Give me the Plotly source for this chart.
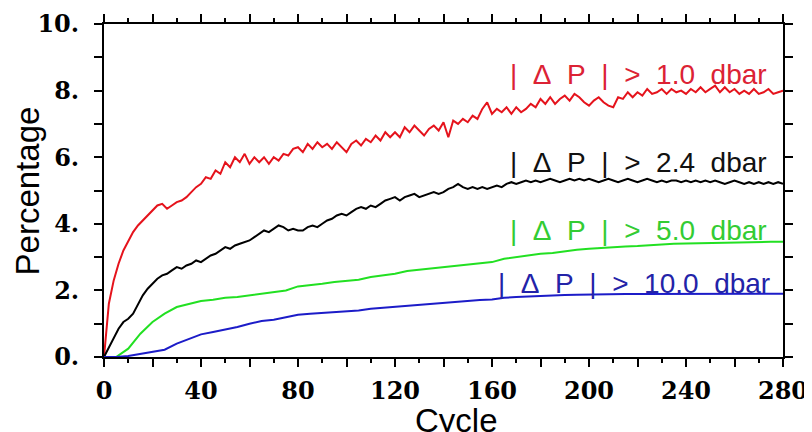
import plotly.graph_objects as go

# ---- data ----
cycle_fine = list(range(0, 281, 2))
cycle_coarse = list(range(0, 281, 5))

pct_gt_1_0 = [
    0, 1.6, 2.3, 2.8, 3.2, 3.5, 3.75, 3.95, 4.1, 4.25, 4.4, 4.55, 4.6, 4.45, 4.55, 4.65, 4.7, 4.8, 4.95, 5.1,
    5.2, 5.4, 5.35, 5.6, 5.5, 5.85, 5.7, 6.0, 5.85, 6.1, 5.8, 6.0, 5.85, 6.0, 5.8, 6.0, 5.9, 6.1, 6.05, 6.25,
    6.3, 6.15, 6.4, 6.25, 6.45, 6.3, 6.4, 6.25, 6.45, 6.3, 6.15, 6.4, 6.5, 6.35, 6.55, 6.45, 6.65, 6.5, 6.75, 6.6,
    6.75, 6.6, 6.9, 6.75, 6.95, 6.8, 6.65, 6.85, 6.95, 6.8, 7.05, 6.6, 7.1, 7.0, 7.15, 7.05, 7.25, 7.15, 7.45, 7.65,
    7.3, 7.45, 7.35, 7.5, 7.3, 7.5, 7.35, 7.45, 7.6, 7.5, 7.75, 7.6, 7.8, 7.6, 7.75, 7.85, 7.7, 7.9, 7.8, 7.65,
    7.55, 7.7, 7.8, 7.65, 7.55, 7.5, 7.8, 7.75, 7.95, 7.8, 7.95, 7.85, 8.05, 7.9, 7.95, 8.05, 7.9, 8.05, 7.95, 8.0,
    7.9, 8.05, 7.95, 8.1, 7.95, 8.05, 8.15, 7.95, 8.1, 7.95, 8.05, 7.9, 8.0, 7.9, 8.05, 7.9, 7.95, 8.05, 7.9, 7.95,
    8.0,
]

pct_gt_2_4 = [
    0, 0.3, 0.6, 0.85, 1.05, 1.15, 1.3, 1.6, 1.85, 2.05, 2.2, 2.35, 2.45, 2.5, 2.6, 2.7, 2.65, 2.75, 2.8, 2.9,
    2.85, 2.95, 3.05, 3.1, 3.2, 3.3, 3.25, 3.35, 3.4, 3.45, 3.5, 3.6, 3.7, 3.8, 3.75, 3.85, 3.95, 3.9, 3.8, 3.85,
    3.8, 3.8, 3.9, 3.95, 3.9, 4.0, 4.1, 4.15, 4.25, 4.3, 4.25, 4.35, 4.45, 4.5, 4.45, 4.55, 4.5, 4.6, 4.7, 4.75,
    4.8, 4.7, 4.8, 4.85, 4.9, 4.8, 4.85, 4.9, 4.95, 4.9, 4.95, 5.05, 5.1, 5.2, 5.1, 5.05, 5.1, 5.05, 5.1, 5.05,
    5.1, 5.15, 5.1, 5.2, 5.25, 5.2, 5.25, 5.3, 5.25, 5.3, 5.25, 5.3, 5.35, 5.3, 5.25, 5.3, 5.35, 5.3, 5.35, 5.3,
    5.35, 5.3, 5.25, 5.3, 5.35, 5.3, 5.25, 5.3, 5.35, 5.3, 5.25, 5.3, 5.35, 5.3, 5.25, 5.3, 5.25, 5.3, 5.3, 5.25,
    5.3, 5.25, 5.3, 5.25, 5.3, 5.25, 5.3, 5.25, 5.2, 5.25, 5.3, 5.25, 5.2, 5.25, 5.2, 5.25, 5.2, 5.25, 5.2, 5.25,
    5.2,
]

pct_gt_5_0 = [
    0, 0.0, 0.25, 0.7, 1.05, 1.3, 1.5, 1.6, 1.68, 1.72, 1.78, 1.8, 1.85, 1.9, 1.95, 2.0, 2.12, 2.15, 2.2, 2.25,
    2.28, 2.32, 2.4, 2.45, 2.5, 2.58, 2.62, 2.66, 2.7, 2.72, 2.76, 2.8, 2.85, 2.95, 3.0, 3.05, 3.1, 3.12, 3.18, 3.22,
    3.25, 3.28, 3.3, 3.32, 3.33, 3.36, 3.38, 3.4, 3.41, 3.42, 3.43, 3.44, 3.44, 3.45, 3.45, 3.46, 3.46,
]

pct_gt_10_0 = [
    0, 0, 0.03, 0.1, 0.15, 0.22, 0.4, 0.55, 0.68, 0.75, 0.82, 0.9, 1.0, 1.08, 1.12, 1.2, 1.27, 1.3, 1.32, 1.34,
    1.36, 1.4, 1.45, 1.48, 1.52, 1.54, 1.56, 1.6, 1.62, 1.65, 1.68, 1.71, 1.73, 1.78, 1.8, 1.82, 1.84, 1.85, 1.86, 1.87,
    1.88, 1.88, 1.88, 1.89, 1.89, 1.89, 1.9, 1.9, 1.9, 1.9, 1.9, 1.9, 1.9, 1.9, 1.9, 1.9, 1.9,
]

x_tickvals = list(range(0, 281, 20))
x_ticktext = [str(v) if v % 40 == 0 else "" for v in x_tickvals]
y_tickvals = [0, 2, 4, 6, 8, 10]
y_ticktext = ["0.", "2.", "4.", "6.", "8.", "10."]

labels = ["|  Δ  P  |  >  1.0  dbar", "|  Δ  P  |  >  2.4  dbar",
          "|  Δ  P  |  >  5.0  dbar", "|  Δ  P  |  >  10.0  dbar"]
label_x = [274.4, 274.4, 274.4, 275.6]
label_y = [8.47, 5.83, 3.81, 2.22]

line_colors = ["#e5131c", "#000000", "#22e022", "#1c1cc8"]
text_colors = ["#dc2234", "#111111", "#33cc33", "#2323a8"]

fig = go.Figure()
series = [(cycle_fine, pct_gt_1_0), (cycle_fine, pct_gt_2_4),
          (cycle_coarse, pct_gt_5_0), (cycle_coarse, pct_gt_10_0)]
for (xs, ys), c in zip(series, line_colors):
    fig.add_trace(go.Scatter(x=xs, y=ys, mode="lines", line=dict(color=c, width=2), showlegend=False))

for t, x, y, c in zip(labels, label_x, label_y, text_colors):
    fig.add_annotation(x=x, y=y, xref="x", yref="y", text=t.replace("  ", "\u00a0\u00a0"),
                       showarrow=False, xanchor="right", yanchor="middle",
                       font=dict(family="Liberation Sans", size=28, color=c))

tickfont = dict(family="DejaVu Serif", size=24, color="black", weight="bold")
fig.update_xaxes(range=[0, 280], tickvals=x_tickvals, ticktext=x_ticktext, automargin=False,
                 ticklabeloverflow="allow",
                 ticks="outside", ticklen=8, tickwidth=2, tickcolor="black",
                 minor=dict(dtick=10, tick0=0, ticks="outside", ticklen=4, tickwidth=2, tickcolor="black"),
                 showline=True, linecolor="black", linewidth=2, mirror="ticks",
                 showgrid=False, zeroline=False, tickfont=tickfont, ticklabelstandoff=3)
fig.update_yaxes(range=[0, 10], tickvals=y_tickvals, ticktext=y_ticktext, automargin=False,
                 ticklabeloverflow="allow",
                 ticks="outside", ticklen=8, tickwidth=2, tickcolor="black",
                 minor=dict(dtick=1, tick0=0, ticks="outside", ticklen=8, tickwidth=2, tickcolor="black"),
                 showline=True, linecolor="black", linewidth=2, mirror="ticks",
                 showgrid=False, zeroline=False, tickfont=tickfont, ticklabelstandoff=10)

fig.add_annotation(text="Percentage", xref="paper", yref="paper", x=-0.112, y=0.5,
                   xanchor="center", yanchor="middle", textangle=-90, showarrow=False,
                   font=dict(family="Liberation Sans", size=33, color="black"))
fig.add_annotation(text="Cycle", xref="paper", yref="paper", x=0.519, y=-0.19,
                   xanchor="center", yanchor="middle", showarrow=False,
                   font=dict(family="Liberation Sans", size=33, color="black"))

# the page body adds an 8px offset, so the figure is 8px smaller on each side
fig.update_layout(width=804, height=424, margin=dict(l=96, r=29, t=16, b=75, autoexpand=False),
                  plot_bgcolor="white", paper_bgcolor="white")
fig.write_html("out.html")
